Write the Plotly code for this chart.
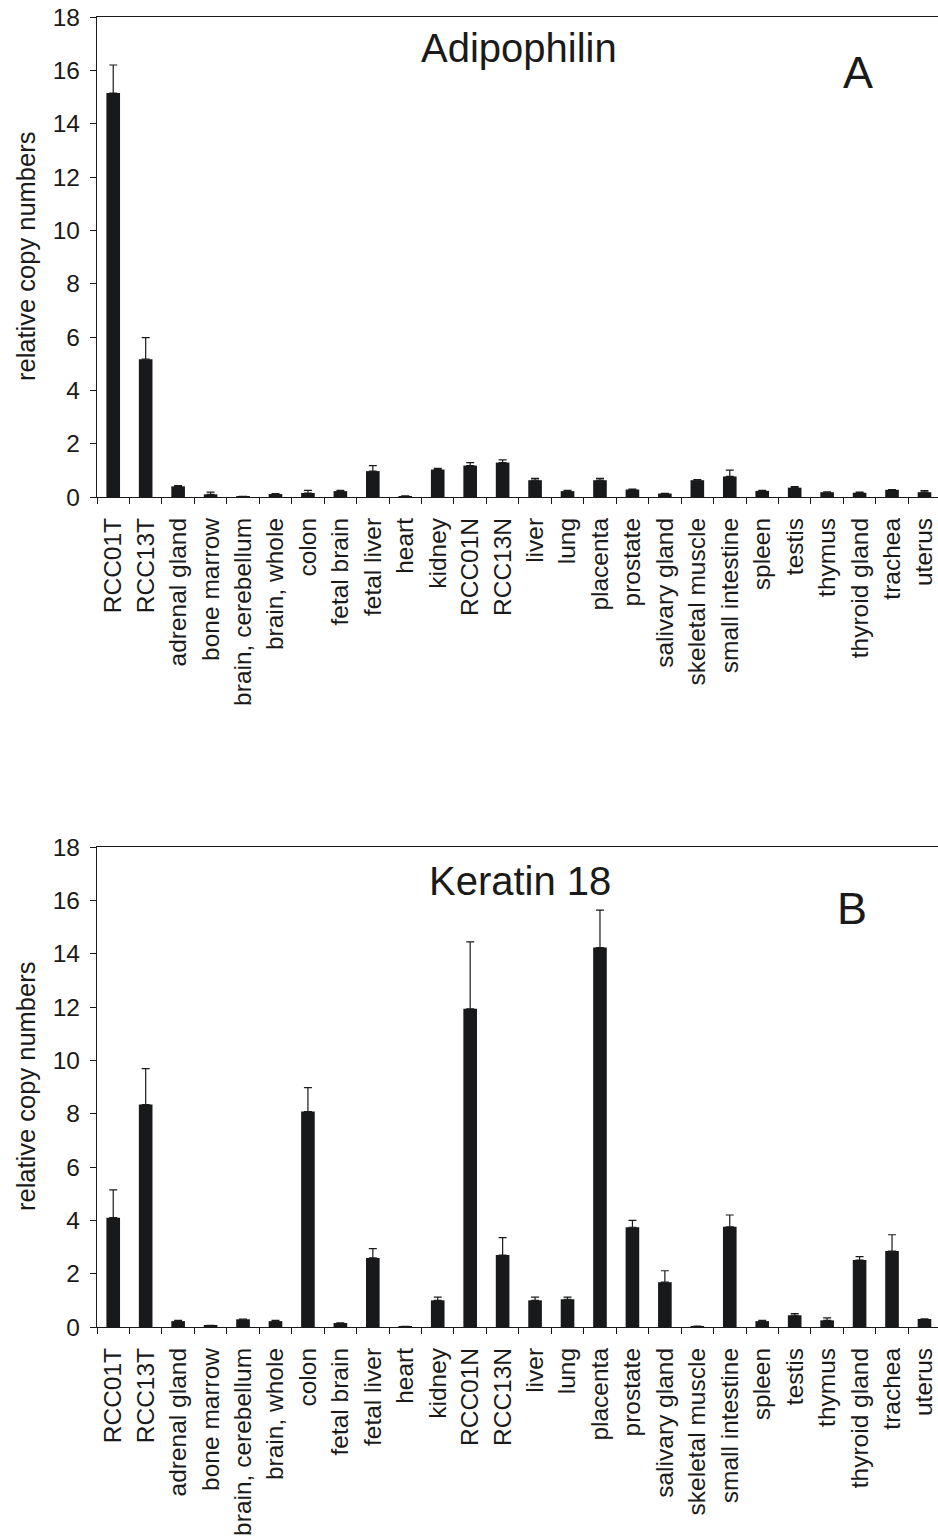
import plotly.graph_objects as go
from plotly.subplots import make_subplots

# Tissue panel (same order in both panels)
categories = ["RCC01T", "RCC13T", "adrenal gland", "bone marrow", "brain, cerebellum",
              "brain, whole", "colon", "fetal brain", "fetal liver", "heart", "kidney",
              "RCC01N", "RCC13N", "liver", "lung", "placenta", "prostate",
              "salivary gland", "skeletal muscle", "small intestine", "spleen", "testis",
              "thymus", "thyroid gland", "trachea", "uterus"]

# Adipophilin: mean relative copy numbers and upper end of the error bar
adipophilin_mean = [15.15, 5.17, 0.40, 0.10, 0.01, 0.11, 0.15, 0.22, 0.97, 0.03, 1.03,
                    1.18, 1.29, 0.63, 0.22, 0.63, 0.28, 0.13, 0.63, 0.77, 0.23, 0.35,
                    0.18, 0.16, 0.27, 0.18]
adipophilin_upper = [16.20, 5.98, 0.43, 0.18, 0.02, 0.13, 0.25, 0.25, 1.18, 0.04, 1.07,
                     1.29, 1.39, 0.70, 0.25, 0.70, 0.30, 0.14, 0.65, 1.01, 0.25, 0.39,
                     0.19, 0.18, 0.28, 0.24]

# Keratin 18: mean relative copy numbers and upper end of the error bar
keratin18_mean = [4.10, 8.34, 0.22, 0.05, 0.29, 0.22, 8.08, 0.15, 2.59, 0.01, 1.00,
                  11.93, 2.70, 1.00, 1.04, 14.23, 3.74, 1.68, 0.02, 3.76, 0.22, 0.44,
                  0.25, 2.51, 2.85, 0.30]
keratin18_upper = [5.14, 9.69, 0.25, 0.06, 0.30, 0.25, 8.98, 0.16, 2.94, 0.02, 1.12,
                   14.44, 3.35, 1.12, 1.12, 15.63, 4.00, 2.11, 0.03, 4.20, 0.25, 0.50,
                   0.34, 2.64, 3.46, 0.31]

y_ticks = [0, 2, 4, 6, 8, 10, 12, 14, 16, 18]

W, H = 938, 1539
FONT = "Liberation Sans, Arial, sans-serif"
INK = "#1a1a1a"
BAR = "#18191a"

fig = make_subplots(rows=2, cols=1)

panels = [
    (adipophilin_mean, adipophilin_upper, 1),
    (keratin18_mean, keratin18_upper, 2),
]
for mean, upper, row in panels:
    fig.add_trace(go.Bar(
        x=categories, y=mean, width=0.42,
        marker=dict(color=BAR, line=dict(width=0)),
        error_y=dict(type="data", symmetric=False,
                     array=[u - m for u, m in zip(upper, mean)],
                     arrayminus=[0] * len(mean),
                     color=INK, thickness=1.2, width=4),
        showlegend=False,
    ), row=row, col=1)

# pixel geometry of the two plot areas
x_left = 97
plot_tops = [17, 847]
plot_bottoms = [497, 1327]
cat_w = 32.45
x_max = -0.5 + (W - x_left) / cat_w

for i, (top, bottom) in enumerate(zip(plot_tops, plot_bottoms), start=1):
    xa = "xaxis" if i == 1 else f"xaxis{i}"
    ya = "yaxis" if i == 1 else f"yaxis{i}"
    fig.layout[xa].update(
        domain=[x_left / W, 1], range=[-0.5, x_max], type="category",
        tickson="boundaries", ticks="outside", ticklen=6, tickwidth=1.2,
        tickcolor=INK, showline=True, linecolor=INK, linewidth=1.3,
        mirror=True, showgrid=False, zeroline=False, tickangle=-90,
        tickfont=dict(family=FONT, size=24.5, color=INK),
        ticklabelstandoff=10, automargin=False,
    )
    fig.layout[ya].update(
        domain=[(H - bottom) / H, (H - top) / H], range=[0, 18],
        tickvals=y_ticks, ticks="outside", ticklen=6, tickwidth=1.2,
        tickcolor=INK, showline=True, linecolor=INK, linewidth=1.3,
        showgrid=False, zeroline=False,
        tickfont=dict(family=FONT, size=24.5, color=INK),
        ticklabelstandoff=5, automargin=False,
    )

def py(p):
    return (H - p) / H

annotations = [
    dict(text="Adipophilin", x=519 / W, y=py(48), size=40),
    dict(text="A", x=858 / W, y=py(72), size=45),
    dict(text="Keratin 18", x=520 / W, y=py(881), size=40),
    dict(text="B", x=852 / W, y=py(908), size=45),
]
for a in annotations:
    fig.add_annotation(text=a["text"], x=a["x"], y=a["y"], xref="paper", yref="paper",
                       xanchor="center", yanchor="middle", showarrow=False,
                       font=dict(family=FONT, size=a["size"], color=INK))

for top, bottom in zip(plot_tops, plot_bottoms):
    fig.add_annotation(text="relative copy numbers", x=26 / W, y=py((top + bottom) / 2),
                       xref="paper", yref="paper", xanchor="center", yanchor="middle",
                       textangle=-90, showarrow=False,
                       font=dict(family=FONT, size=25.5, color=INK))

fig.update_layout(
    width=W, height=H, autosize=False,
    margin=dict(l=0, r=0, t=0, b=0, pad=0),
    paper_bgcolor="white", plot_bgcolor="white",
    bargap=0.58,
)

fig.write_html("out.html", config={"displayModeBar": False})
